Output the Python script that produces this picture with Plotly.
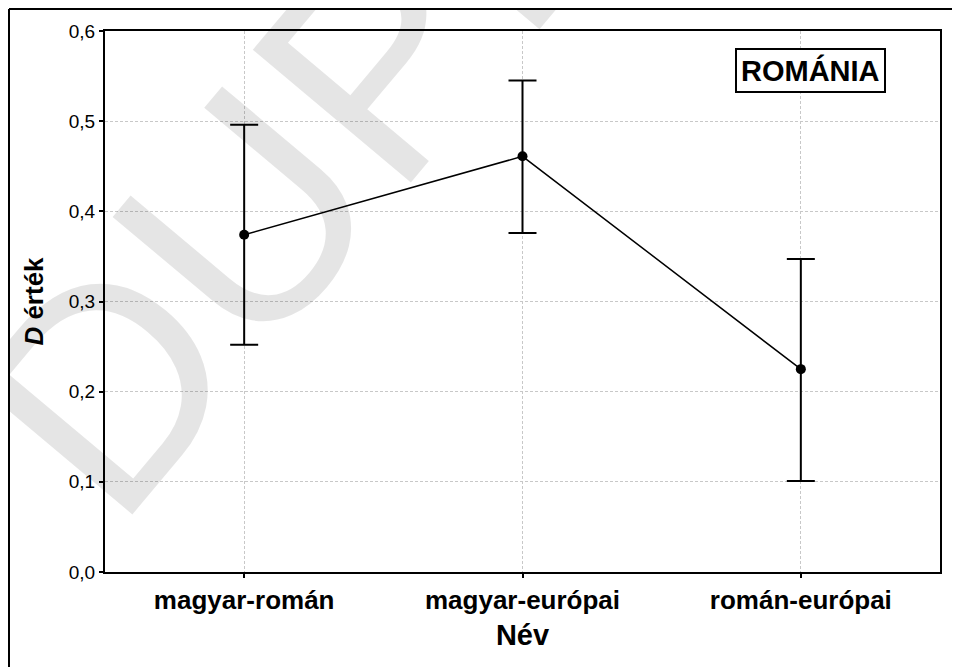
import plotly.graph_objects as go

categories = ["magyar-román", "magyar-európai", "román-európai"]
means = [0.374, 0.461, 0.225]
upper = [0.496, 0.545, 0.347]
lower = [0.252, 0.376, 0.101]
y_ticks = [0.0, 0.1, 0.2, 0.3, 0.4, 0.5, 0.6]

err_plus = [u - m for u, m in zip(upper, means)]
err_minus = [m - l for m, l in zip(means, lower)]

W, H = 960, 667
OFF = 8  # page body margin
L, T = 105 - OFF, 31 - OFF
R = W - (940 - OFF)
B = H - (572 - OFF)
pw, ph = W - L - R, H - T - B

def px(x):  # page pixel -> paper
    return (x - OFF - L) / pw

def py(y):
    return (H - B - (y - OFF)) / ph

fig = go.Figure()
fig.add_trace(go.Scatter(
    x=list(range(len(categories))), y=means,
    mode="lines+markers",
    line=dict(color="black", width=1.5),
    marker=dict(color="black", size=10),
    error_y=dict(type="data", symmetric=False, array=err_plus, arrayminus=err_minus,
                 color="black", thickness=2, width=14),
    showlegend=False,
))

FONT = "Liberation Sans, Arial"
fig.update_layout(
    width=W, height=H,
    margin=dict(l=L, r=R, t=T, b=B),
    paper_bgcolor="white", plot_bgcolor="white",
    separators=",.",
    xaxis=dict(
        range=[-0.5, 2.5], tickvals=list(range(len(categories))), ticktext=categories,
        tickfont=dict(family=FONT, size=26, color="black", weight="bold"),
        showgrid=True, gridcolor="#c8c8c8", griddash="3px,2px", gridwidth=1,
        showline=True, linecolor="black", linewidth=2, mirror=True,
        ticks="outside", ticklen=4, tickwidth=1.5, tickcolor="black",
        title=dict(text="<b>Név</b>", font=dict(family=FONT, size=29, color="black"),
                   standoff=10),
        zeroline=False,
    ),
    yaxis=dict(
        range=[0, 0.6], tickvals=y_ticks, tickformat=".1f",
        tickfont=dict(family=FONT, size=19, color="black"),
        showgrid=True, gridcolor="#c8c8c8", griddash="3px,2px", gridwidth=1,
        showline=True, linecolor="black", linewidth=2, mirror=True,
        ticks="outside", ticklen=4, tickwidth=1.5, tickcolor="black",
        title=dict(text="<b><i>D</i> érték</b>", font=dict(family=FONT, size=26, color="black"),
                   standoff=18),
        zeroline=False,
    ),
)

# watermark
fig.add_annotation(
    x=px(294), y=py(160), xref="paper", yref="paper",
    text="DUPL", showarrow=False, textangle=-50,
    font=dict(family=FONT, size=300, color="rgba(0,0,0,0.1)"),
    xanchor="center", yanchor="middle",
)

# ROMÁNIA box
fig.add_annotation(
    x=px(810), y=py(70), xref="paper", yref="paper",
    text="<b>ROMÁNIA</b>", showarrow=False,
    font=dict(family=FONT, size=29, color="black"),
    bordercolor="black", borderwidth=2, borderpad=4, bgcolor="white",
    xanchor="center", yanchor="middle",
)

# outer frame
fig.add_shape(type="line", xref="paper", yref="paper", x0=px(9), x1=px(970), y0=py(9), y1=py(9),
              line=dict(color="black", width=2))
fig.add_shape(type="line", xref="paper", yref="paper", x0=px(9), x1=px(9), y0=py(9), y1=py(690),
              line=dict(color="black", width=2))
fig.add_shape(type="line", xref="paper", yref="paper", x0=px(959), x1=px(959), y0=py(9), y1=py(690),
              line=dict(color="#bbbbbb", width=1.5))

fig.write_html("out.html")
